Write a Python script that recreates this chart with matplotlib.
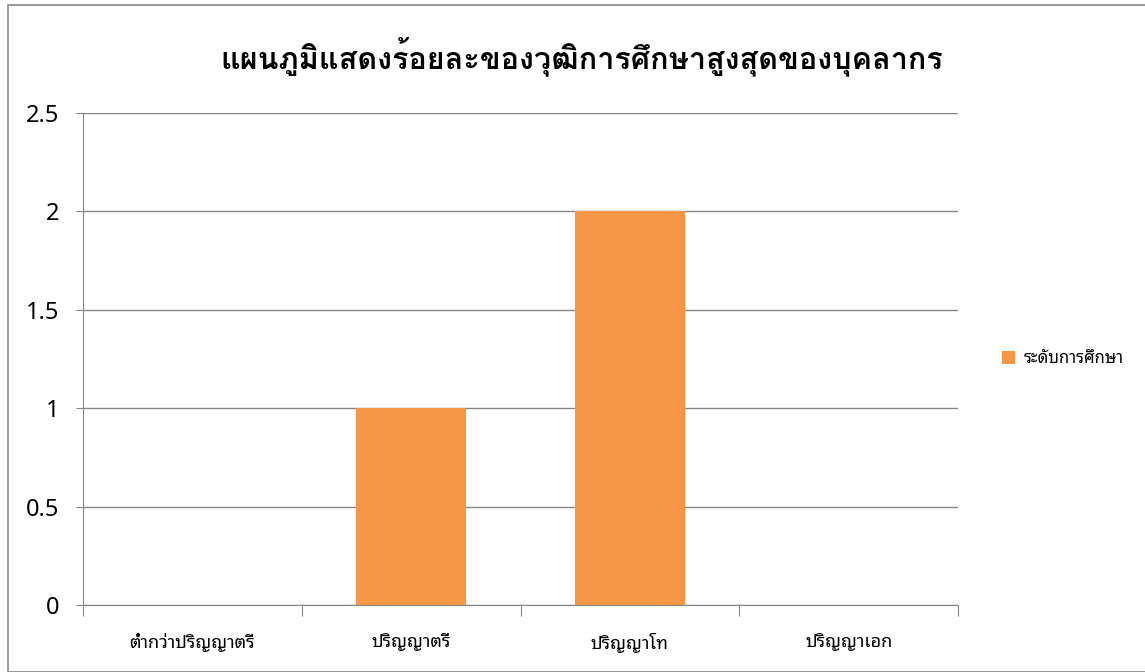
import matplotlib
matplotlib.use("Agg")
import matplotlib.pyplot as plt
from matplotlib.patches import Rectangle

# data
categories = ["ต่ำกว่าปริญญาตรี", "ปริญญาตรี", "ปริญญาโท", "ปริญญาเอก"]
values = [0, 1, 2, 0]
series_name = "ระดับการศึกษา"
title = "แผนภูมิแสดงร้อยละของวุฒิการศึกษาสูงสุดของบุคลากร"
yticks = [0, 0.5, 1, 1.5, 2, 2.5]
ytick_labels = ["0", "0.5", "1", "1.5", "2", "2.5"]

plt.rcParams['font.family'] = ['Noto Sans Thai Looped', 'Loma', 'Noto Sans', 'DejaVu Sans']

fig = plt.figure(figsize=(11.45, 6.72), dpi=100)
fig.patches.append(Rectangle((8 / 1145, 0), 1, 1 - 5 / 672, transform=fig.transFigure,
                             fill=False, edgecolor='#888888', linewidth=1.2))

ax = fig.add_axes([83 / 1145, 67 / 672, 875 / 1145, 492 / 672])
x = range(len(categories))
ax.bar(x, values, width=0.5, color='#F79646', label=series_name, zorder=3)

ax.set_xlim(-0.5, len(categories) - 0.5)
ax.set_ylim(0, 2.5)
ax.set_yticks(yticks)
ax.set_yticklabels(ytick_labels, fontsize=17, family=['Noto Sans', 'DejaVu Sans'])
ax.yaxis.grid(True, color='#868686', linewidth=1)
ax.set_axisbelow(True)

# category boundaries as major ticks, labels centred on minor ticks
ax.set_xticks([i - 0.5 for i in range(len(categories) + 1)])
ax.set_xticklabels([])
ax.set_xticks(list(x), minor=True)
ax.set_xticklabels(categories, minor=True, fontsize=13)
ax.tick_params(axis='x', which='major', length=8, color='#868686')
ax.tick_params(axis='x', which='minor', length=0, pad=20)
ax.tick_params(axis='y', length=5, color='#868686', pad=12)

for side in ['top', 'right']:
    ax.spines[side].set_visible(False)
for side in ['left', 'bottom']:
    ax.spines[side].set_color('#868686')

fig.text(0.508, 0.915, title, ha='center', va='center', fontsize=22, fontweight='bold',
         family=['Loma', 'Noto Sans Thai', 'DejaVu Sans'])

ax.legend(loc='center left', bbox_to_anchor=(1.033, 0.5), frameon=False,
          fontsize=12, handlelength=0.8, handleheight=0.8, handletextpad=0.5)

fig.savefig("out.png", dpi=100)
